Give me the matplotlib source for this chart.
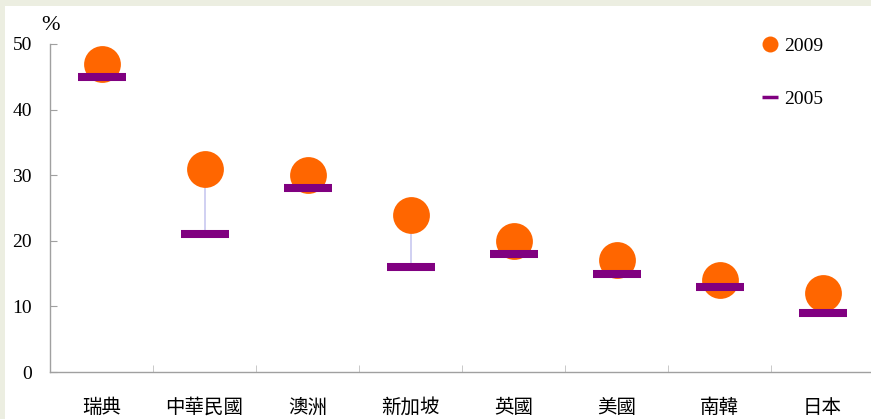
import matplotlib
matplotlib.use("Agg")
import matplotlib.pyplot as plt
from matplotlib.lines import Line2D
from matplotlib.patches import Rectangle

categories = ["瑞典", "中華民國", "澳洲", "新加坡", "英國", "美國", "南韓", "日本"]
values_2009 = [47, 31, 30, 24, 20, 17, 14, 12]
values_2005 = [45, 21, 28, 16, 18, 15, 13, 9]
yticks = [0, 10, 20, 30, 40, 50]

W, H = 871, 419
fig = plt.figure(figsize=(W / 100, H / 100), dpi=100)
fig.patch.set_facecolor("#ECEEE1")
fig.add_artist(Rectangle((5 / W, 0), 1, 1 - 6 / H, transform=fig.transFigure,
                         facecolor="white", edgecolor="none", zorder=-10))

ax = fig.add_axes([50 / W, 47 / H, 824 / W, 328 / H])
ax.set_facecolor("none")
ax.set_zorder(1)

x = list(range(len(categories)))
serif = ["Liberation Serif", "DejaVu Serif"]
cjk = ["Noto Sans CJK TC", "DejaVu Sans"]

for i in x:
    ax.plot([i, i], [values_2005[i], values_2009[i]], color="#C8C8F0", lw=1.2, zorder=1)
ax.plot(x, values_2009, linestyle="none", marker="o", markersize=26.5,
        color="#FF6600", markeredgewidth=0, zorder=2, clip_on=False)
ax.plot(x, values_2005, linestyle="none", marker="_", markersize=35,
        markeredgewidth=5.8, color="#800080", zorder=3, clip_on=False)

ax.set_xlim(-0.5, 7.5)
ax.set_ylim(0, 50)
ax.set_yticks(yticks)
ax.set_yticklabels([str(v) for v in yticks], fontfamily=serif, fontsize=14)
ax.set_xticks(x)
ax.set_xticklabels(categories, fontfamily=cjk, fontsize=14)
ax.set_xticks([i + 0.5 for i in x[:-1]], minor=True)

for s in ["top", "right"]:
    ax.spines[s].set_visible(False)
for s in ["left", "bottom"]:
    ax.spines[s].set_color("#A0A0A0")
    ax.spines[s].set_linewidth(1.0)

ax.tick_params(axis="y", direction="in", length=5, color="#A0A0A0", pad=13)
ax.tick_params(axis="x", which="major", length=0, pad=18)
ax.tick_params(axis="x", which="minor", direction="in", length=5, color="#C0C0C0")

ax.text(-0.5, 51.3, "%", fontfamily=serif, fontsize=16, ha="center", va="bottom")

handles = [
    Line2D([], [], linestyle="none", marker="o", markersize=11.5, color="#FF6600", markeredgewidth=0),
    Line2D([], [], linestyle="none", marker="_", markersize=11, markeredgewidth=2.5, color="#800080"),
]
leg = ax.legend(handles, ["2009", "2005"], loc="upper left", bbox_to_anchor=(695 / 824, 1.075),
                frameon=False, prop={"family": serif, "size": 14}, labelspacing=1.85,
                handlelength=0.8, handletextpad=0.3)

fig.savefig("out.png", dpi=100)
